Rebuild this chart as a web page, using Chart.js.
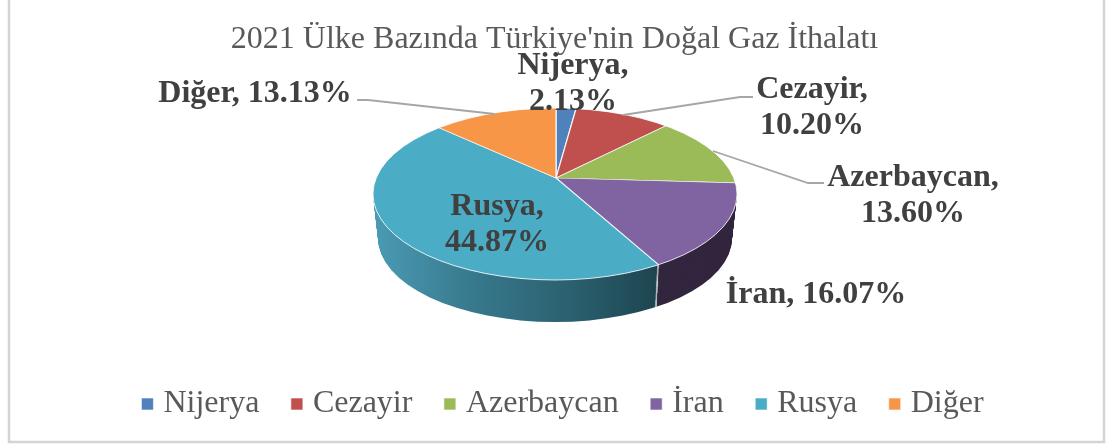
<!DOCTYPE html>
<html><head><meta charset="utf-8">
<style>html,body{margin:0;padding:0;background:#fff}canvas{display:block}</style>
<script src="https://cdn.jsdelivr.net/npm/chart.js@4"></script>
</head><body>
<canvas id="c" width="1109" height="445"></canvas>
<script>
const categories = ['Nijerya','Cezayir','Azerbaycan','İran','Rusya','Diğer'];
const shares = [2.13,10.20,13.60,16.07,44.87,13.13];
const topColors = ['#4f81bd','#c0504d','#9bbb59','#8064a2','#4bacc6','#f79646'];
const wallColors = ['#2f4d71','#73302e','#5d7035','#33263f',null,'#94592a'];
const titleText = "2021 Ülke Bazında Türkiye'nin Doğal Gaz İthalatı";

// data label placement: [centre x, first line centre y, line break?]
const labelPlaces = [[573,66,true],[812,90,true],[913,178,true],[816,295,false],[497,207,true],[255,94,false]];
const leaders = [
  null,
  [[753,97],[740,97],[623,115]],
  [[824,183],[808,183],[713,151]],
  null, null,
  [[357,100],[368,100],[495,114]]
];

// the tilted-pie view
const view = {apexX:556, apexY:178, cx:555, cy:194, rx:182, ry:86, depth:44, rxLoss:5, ryLoss:2, spreadX:260, spreadY:121};

function ellipseClip(ctx, t){
  ctx.beginPath();
  ctx.ellipse(view.cx, view.cy + t, view.rx - view.rxLoss*t/view.depth, view.ry - view.ryLoss*t/view.depth, 0, 0, Math.PI*2);
  ctx.clip();
}
function drawLayer(ctx, arcs, t, override){
  ctx.save();
  ellipseClip(ctx, t);
  arcs.forEach((arc,i)=>{
    const sx = view.spreadX/arc.outerRadius, sy = view.spreadY/arc.outerRadius;
    ctx.save();
    ctx.translate(view.apexX, view.apexY + t);
    ctx.scale(sx, sy);
    ctx.translate(-arc.x, -arc.y);
    const saved = arc.options;
    if (override) arc.options = Object.assign({}, saved, {backgroundColor: override(i, arc, sx)});
    arc.draw(ctx);
    arc.options = saved;
    ctx.restore();
  });
  ctx.restore();
}

const tiltedPie = {
  id:'tiltedPie',
  afterLayout(chart){
    chart.legend.left += 11;
    chart.legend.right += 11;
    chart.legend.top += 5;
    chart.legend.bottom += 5;
  },
  beforeDraw(chart){
    const ctx = chart.ctx;
    ctx.save();
    ctx.fillStyle='#fff';
    ctx.fillRect(0,0,chart.width,chart.height);
    ctx.strokeStyle='#d4d4d4';
    ctx.lineWidth=2.5;
    ctx.beginPath();
    ctx.moveTo(9,-5);ctx.lineTo(9,442);ctx.lineTo(1104,442);ctx.lineTo(1104,-5);
    ctx.stroke();
    ctx.restore();
  },
  beforeDatasetsDraw(chart){
    const ctx = chart.ctx;
    const arcs = chart.getDatasetMeta(0).data;
    const wallFill = (i, arc, sx)=>{
      if (wallColors[i]) return wallColors[i];
      const u = p => arc.x + (p - view.apexX)/sx;
      const g = ctx.createLinearGradient(u(376),0,u(660),0);
      g.addColorStop(0,'#4a9ab3');
      g.addColorStop(0.35,'#37788c');
      g.addColorStop(0.7,'#2a5f6e');
      g.addColorStop(1,'#1c444f');
      return g;
    };
    for (let t=view.depth; t>=1; t--) drawLayer(ctx, arcs, t, wallFill);
    drawLayer(ctx, arcs, 0, null);
    ctx.save();
    ctx.strokeStyle='rgba(255,255,255,0.85)';
    ctx.lineWidth=1;
    ctx.beginPath();
    ctx.ellipse(view.cx, view.cy, view.rx, view.ry, 0, 0, Math.PI*2);
    ctx.stroke();
    ctx.restore();
    return false;
  },
  afterDraw(chart){
    const ctx = chart.ctx;
    ctx.save();
    ctx.strokeStyle='#a6a6a6';
    ctx.lineWidth=1.8;
    leaders.forEach(pts=>{
      if(!pts) return;
      ctx.beginPath();
      pts.forEach((p,i)=> i?ctx.lineTo(p[0],p[1]):ctx.moveTo(p[0],p[1]));
      ctx.stroke();
    });
    ctx.fillStyle='#404040';
    ctx.font='bold 32px "Liberation Serif"';
    ctx.textAlign='center';
    ctx.textBaseline='middle';
    categories.forEach((name,i)=>{
      const [x,y,wrap]=labelPlaces[i];
      const pct=shares[i].toFixed(2)+'%';
      if(wrap){ctx.fillText(name+',',x,y);ctx.fillText(pct,x,y+36);}
      else ctx.fillText(name+', '+pct,x,y);
    });
    ctx.restore();
  }
};

new Chart(document.getElementById('c'),{
  type:'pie',
  data:{labels:categories,datasets:[{data:shares,backgroundColor:topColors,borderColor:'rgba(255,255,255,0.85)',borderWidth:0.7}]},
  plugins:[tiltedPie],
  options:{
    responsive:false,
    animation:false,
    layout:{padding:{top:20,bottom:20,left:0,right:0}},
    plugins:{
      tooltip:{enabled:false},
      title:{display:true,text:titleText,color:'#595959',font:{family:'"Liberation Serif"',size:32,weight:'normal'},padding:{top:0,bottom:8}},
      legend:{position:'bottom',labels:{usePointStyle:true,pointStyle:'rect',boxWidth:0.01,boxHeight:12,padding:37.5,color:'#595959',font:{family:'"Liberation Serif"',size:32}}}
    }
  }
});
</script>
</body></html>
